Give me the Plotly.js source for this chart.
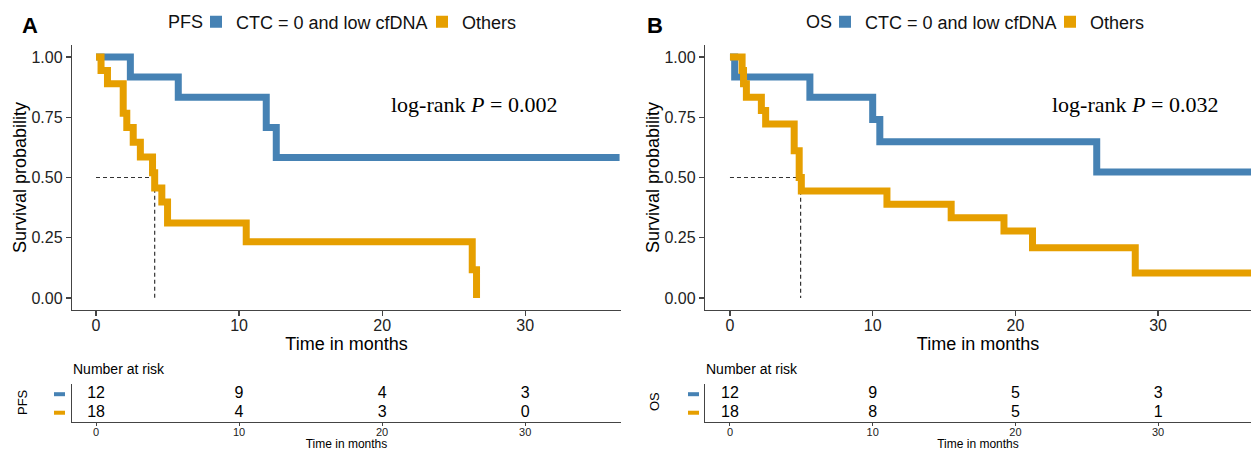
<!DOCTYPE html>
<html>
<head>
<meta charset="utf-8">
<script src="https://cdn.plot.ly/plotly-3.0.1.min.js"></script>
<style>html,body{margin:0;padding:0;background:#fff;}#chart{width:1251px;height:451px;}</style>
</head>
<body>
<div id="chart"></div>
<script>
// ---- data ----
const groupNames = ["CTC = 0 and low cfDNA", "Others"];
const colors = ["#4682B4", "#E69F00"];
const panelNames = ["PFS", "OS"];

// PFS (panel A)
const pfsBlueT = [0, 2.4, 5.75, 11.9, 12.6, 36.6];
const pfsBlueS = [1, 0.917, 0.833, 0.708, 0.583, 0.583];
const pfsOrangeT = [0, 0.35, 0.8, 1.9, 2.15, 2.6, 3.1, 3.95, 4.1, 4.6, 5.0, 10.5, 26.3, 26.6];
const pfsOrangeS = [1, 0.944, 0.889, 0.767, 0.708, 0.646, 0.585, 0.52, 0.456, 0.398, 0.311, 0.233, 0.117, 0];
const pfsMedian = 4.1;

// OS (panel B)
const osBlueT = [0, 0.33, 5.6, 10.0, 10.5, 25.7, 36.6];
const osBlueS = [1, 0.917, 0.833, 0.741, 0.648, 0.523, 0.523];
const osOrangeT = [0, 0.85, 0.95, 1.15, 2.2, 2.5, 4.5, 4.85, 5.0, 11.0, 15.5, 19.2, 21.2, 28.4, 36.6];
const osOrangeS = [1, 0.944, 0.889, 0.833, 0.778, 0.722, 0.611, 0.5, 0.444, 0.389, 0.333, 0.278, 0.208, 0.104, 0.104];
const osMedian = 4.95;

// Number at risk
const riskTimes = [0, 10, 20, 30];
const pfsRiskBlue = [12, 9, 4, 3];
const pfsRiskOrange = [18, 4, 3, 0];
const osRiskBlue = [12, 9, 5, 3];
const osRiskOrange = [18, 8, 5, 1];

const pValues = ["0.002", "0.032"];
const xTicks = [0, 10, 20, 30];
const yTicks = [0, 0.25, 0.5, 0.75, 1];
const yTickText = ["0.00", "0.25", "0.50", "0.75", "1.00"];

// ---- layout helpers ----
const W = 1251, H = 451;
const px = v => v / W;
const py = v => 1 - v / H;
const FONT = "Liberation Sans, Arial, sans-serif";
const SERIF = "Liberation Serif, Times New Roman, serif";
const AX = "#444";

function km(t, s, color, xa, ya) {
  return {type: "scatter", mode: "lines", x: t, y: s, xaxis: xa, yaxis: ya,
    line: {color: color, width: 7, shape: "hv"}, showlegend: false, hoverinfo: "skip"};
}
function medianLine(m, xa, ya) {
  return {type: "scatter", mode: "lines", x: [0, m, m], y: [0.5, 0.5, 0], xaxis: xa, yaxis: ya,
    line: {color: "#333", width: 1.2, dash: "4px,3px"}, showlegend: false, hoverinfo: "skip"};
}
function riskRow(vals, rowY, xa, ya) {
  return {type: "scatter", mode: "text", x: riskTimes, y: riskTimes.map(() => rowY),
    text: vals.map(String), textposition: "middle center", xaxis: xa, yaxis: ya,
    textfont: {family: FONT, size: 16, color: "#000"}, showlegend: false, hoverinfo: "skip"};
}
function legendItem(i, leg) {
  return {type: "scatter", mode: "markers", x: [null], y: [null], name: groupNames[i],
    legend: leg, marker: {symbol: "square", size: 12, color: colors[i]}, showlegend: true, hoverinfo: "skip"};
}

const data = [
  medianLine(pfsMedian, "x", "y"),
  km(pfsBlueT, pfsBlueS, colors[0], "x", "y"),
  km(pfsOrangeT, pfsOrangeS, colors[1], "x", "y"),
  medianLine(osMedian, "x2", "y2"),
  km(osBlueT, osBlueS, colors[0], "x2", "y2"),
  km(osOrangeT, osOrangeS, colors[1], "x2", "y2"),
  riskRow(pfsRiskBlue, 2, "x3", "y3"),
  riskRow(pfsRiskOrange, 1, "x3", "y3"),
  riskRow(osRiskBlue, 2, "x4", "y4"),
  riskRow(osRiskOrange, 1, "x4", "y4"),
  legendItem(0, "legend"), legendItem(1, "legend3"),
  legendItem(0, "legend2"), legendItem(1, "legend4")
];

function kmX(domain, range, anchor) {
  return {domain: domain, range: range, anchor: anchor, showline: true, linecolor: AX, linewidth: 1.2,
    ticks: "outside", ticklen: 5, tickcolor: AX, tickwidth: 1.2, tickvals: xTicks, showgrid: false, zeroline: false,
    ticklabelstandoff: -4,
    tickfont: {family: FONT, size: 16, color: "#222"},
    title: {text: "Time in months", font: {family: FONT, size: 18, color: "#000"}, standoff: 1}};
}
function kmY(anchor) {
  return {domain: [py(310), py(45)], range: [-0.05, 1.05], anchor: anchor, showline: true, linecolor: AX, linewidth: 1.2,
    ticks: "outside", ticklen: 5, tickcolor: AX, tickwidth: 1.2, tickvals: yTicks, ticktext: yTickText,
    showgrid: false, zeroline: false, tickfont: {family: FONT, size: 16, color: "#222"},
    title: {text: "Survival probability", font: {family: FONT, size: 18, color: "#000"}, standoff: 0}};
}
function tabX(domain, range, anchor) {
  return {domain: domain, range: range, anchor: anchor, showline: true, linecolor: AX, linewidth: 1.2,
    ticks: "outside", ticklen: 3, tickcolor: AX, tickvals: xTicks, showgrid: false, zeroline: false,
    ticklabelstandoff: -3,
    tickfont: {family: FONT, size: 11, color: "#222"},
    title: {text: "Time in months", font: {family: FONT, size: 12, color: "#000"}, standoff: 4}};
}
function tabY(anchor) {
  return {domain: [py(422), py(384)], range: [0.5, 2.55], anchor: anchor, showline: true, linecolor: AX, linewidth: 1.2,
    ticks: "", showticklabels: false, showgrid: false, zeroline: false, fixedrange: true};
}

const leftDom = [px(72), px(621)], rightDom = [px(705), 1];
const leftRange = [-1.68, 36.7], rightRange = [-1.75, 36.51];

function legendCfg(x) {
  return {orientation: "h", x: px(x), xanchor: "left", y: py(22), yanchor: "middle",
    bgcolor: "rgba(0,0,0,0)", borderwidth: 0, itemclick: false, itemdoubleclick: false,
    font: {family: FONT, size: 18, color: "#111"}};
}

function ann(text, x, y, size, opts) {
  return Object.assign({xref: "paper", yref: "paper", x: px(x), y: py(y), text: text, showarrow: false,
    xanchor: "center", yanchor: "middle",
    font: {family: FONT, size: size, color: "#000"}}, opts || {});
}

const layout = {
  width: W, height: H, margin: {l: 0, r: 0, t: 0, b: 0},
  paper_bgcolor: "#fff", plot_bgcolor: "#fff", showlegend: true,
  xaxis: kmX(leftDom, leftRange, "y"), yaxis: kmY("x"),
  xaxis2: kmX(rightDom, rightRange, "y2"), yaxis2: kmY("x2"),
  xaxis3: tabX(leftDom, leftRange, "y3"), yaxis3: tabY("x3"),
  xaxis4: tabX(rightDom, rightRange, "y4"), yaxis4: tabY("x4"),
  legend: legendCfg(196),
  legend3: legendCfg(422),
  legend2: legendCfg(825),
  legend4: legendCfg(1050),
  annotations: [
    ann("<b>A</b>", 30, 26, 22),
    ann("<b>B</b>", 655, 26, 22),
    ann(panelNames[0], 166, 22, 18, {xanchor: "left", font: {family: FONT, size: 18, color: "#111"}}),
    ann(panelNames[1], 804, 22, 18, {xanchor: "left", font: {family: FONT, size: 18, color: "#111"}}),
    ann("log-rank <i>P</i> = " + pValues[0], 474, 104, 22, {font: {family: SERIF, size: 22, color: "#000"}}),
    ann("log-rank <i>P</i> = " + pValues[1], 1135, 104, 22, {font: {family: SERIF, size: 22, color: "#000"}}),
    ann("Number at risk", 71, 369, 14, {xanchor: "left"}),
    ann("Number at risk", 704, 369, 14, {xanchor: "left"}),
    ann(panelNames[0], 22, 402, 13, {textangle: -90}),
    ann(panelNames[1], 654, 402, 13, {textangle: -90})
  ],
  shapes: [
    {type: "line", xref: "paper", yref: "y3", x0: px(54), x1: px(65), y0: 2, y1: 2, line: {color: colors[0], width: 4}},
    {type: "line", xref: "paper", yref: "y3", x0: px(54), x1: px(65), y0: 1, y1: 1, line: {color: colors[1], width: 4}},
    {type: "line", xref: "paper", yref: "y4", x0: px(688), x1: px(699), y0: 2, y1: 2, line: {color: colors[0], width: 4}},
    {type: "line", xref: "paper", yref: "y4", x0: px(688), x1: px(699), y0: 1, y1: 1, line: {color: colors[1], width: 4}}
  ]
};

Plotly.newPlot("chart", data, layout, {staticPlot: true, displayModeBar: false});
</script>
</body>
</html>
